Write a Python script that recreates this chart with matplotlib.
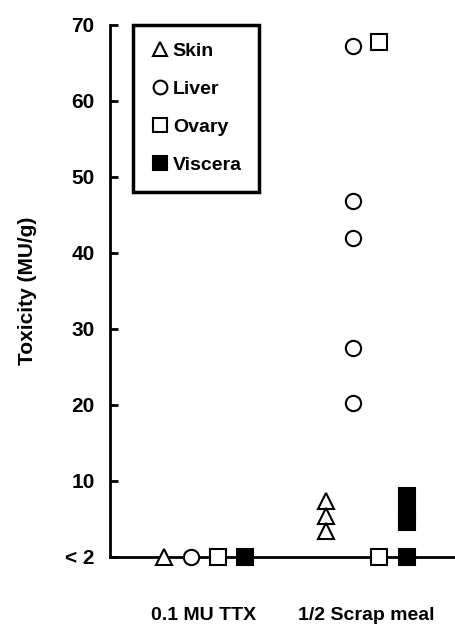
import numpy as np
import matplotlib.pyplot as plt

plt.rcParams['font.family'] = ['Liberation Sans', 'DejaVu Sans']
plt.rcParams['font.weight'] = 'bold'
plt.rcParams['axes.labelweight'] = 'bold'

# groups and values (MU/g); 0 means below detection (< 2)
groups = ['0.1 MU TTX', '1/2 Scrap meal']
organs = ['Skin', 'Liver', 'Ovary', 'Viscera']

skin = [[0], [7.4, 5.4, 3.4]]
liver = [[0], [67.2, 46.8, 42.0, 27.5, 20.3]]
ovary = [[0], [67.8, 0]]
viscera = [[0], [8.0, 5.6, 4.6, 0]]

yticks = [0, 10, 20, 30, 40, 50, 60, 70]
yticklabels = ['< 2', '10', '20', '30', '40', '50', '60', '70']

fig = plt.figure(figsize=(4.55, 6.25), dpi=100)
ax = fig.add_axes([110/455, 1-557/625, 1-110/455, (557-25)/625])

styles = {
    'Skin': dict(marker='^', mfc='white', mec='black', ms=11),
    'Liver': dict(marker='o', mfc='white', mec='black', ms=11),
    'Ovary': dict(marker='s', mfc='white', mec='black', ms=11),
    'Viscera': dict(marker='s', mfc='black', mec='black', ms=11),
}
offsets = {'Skin': -1.5, 'Liver': -0.5, 'Ovary': 0.5, 'Viscera': 1.5}
step = 27 / 162

for name, data in zip(organs, [skin, liver, ovary, viscera]):
    for g, vals in enumerate(data):
        x = np.full(len(vals), g + offsets[name] * step)
        ax.plot(x, vals, linestyle='none', mew=1.5, clip_on=False,
                zorder=3, label=name if g == 0 else None, **styles[name])

ax.set_xlim((110 - 204) / 162, (455 - 204) / 162)
ax.set_ylim(0, 70)
ax.set_yticks(yticks)
ax.set_yticklabels(yticklabels, fontsize=15)
ax.set_xticks([0, 1])
ax.set_xticklabels(groups, fontsize=14)
ax.tick_params(axis='y', direction='in', length=6, width=2, pad=11)
ax.tick_params(axis='x', length=0, pad=36)

for s in ['top', 'right']:
    ax.spines[s].set_visible(False)
ax.spines['left'].set_linewidth(2)
ax.spines['bottom'].set_linewidth(2)
ax.spines['bottom'].set_zorder(2)

ax.set_ylabel('Toxicity (MU/g)', fontsize=15, labelpad=20)

leg = ax.legend(loc='upper left', bbox_to_anchor=(133/455, 1-25/625),
                bbox_transform=fig.transFigure, prop={'size': 14, 'weight': 'bold'},
                frameon=True, fancybox=False, handletextpad=0.15,
                handlelength=1.0, labelspacing=1.05, borderpad=0.9,
                borderaxespad=0, markerscale=0.9)
leg.get_frame().set_edgecolor('black')
leg.get_frame().set_linewidth(2.5)
leg.get_frame().set_alpha(1)

fig.savefig('out.png', dpi=100)
